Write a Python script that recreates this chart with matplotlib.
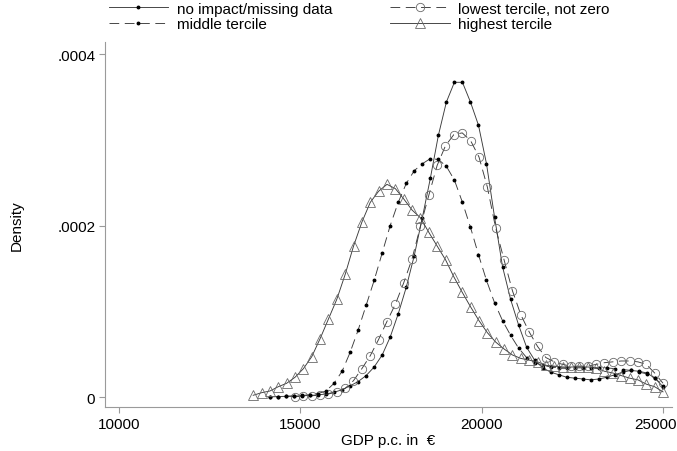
import numpy as np
import matplotlib
matplotlib.use("Agg")
import matplotlib.pyplot as plt
import matplotlib.transforms as mtransforms

plt.rcParams['font.family'] = ['Liberation Sans', 'DejaVu Sans']
plt.rcParams['lines.scale_dashes'] = False

# ---- data (density values in units of 1e-4) ----
noimp_start, noimp_end, noimp_n = 14160, 25000, 50
noimp_dens = [0.003, 0.005, 0.008, 0.01, 0.014, 0.018, 0.025, 0.035, 0.055, 0.085,
              0.13, 0.18, 0.25, 0.35, 0.49, 0.70, 0.97, 1.28, 1.65, 2.09,
              2.55, 3.05, 3.44, 3.67, 3.67, 3.44, 3.17, 2.72, 2.10, 1.52,
              1.14, 0.84, 0.58, 0.43, 0.34, 0.29, 0.26, 0.23, 0.22, 0.21,
              0.20, 0.21, 0.23, 0.26, 0.29, 0.31, 0.30, 0.28, 0.22, 0.12]

low_start, low_end, low_n = 14850, 25000, 45
low_dens = [0.005, 0.01, 0.015, 0.02, 0.035, 0.06, 0.10, 0.19, 0.33, 0.48,
            0.67, 0.88, 1.08, 1.33, 1.61, 1.99, 2.35, 2.70, 2.93, 3.06,
            3.08, 2.99, 2.80, 2.45, 1.97, 1.60, 1.24, 0.96, 0.76, 0.59,
            0.46, 0.41, 0.38, 0.36, 0.36, 0.36, 0.38, 0.40, 0.41, 0.42,
            0.42, 0.41, 0.38, 0.28, 0.16]

mid_start, mid_end, mid_n = 14160, 25000, 50
mid_dens = [0.003, 0.005, 0.008, 0.012, 0.018, 0.026, 0.04, 0.07, 0.16, 0.30,
            0.52, 0.78, 1.07, 1.36, 1.68, 2.00, 2.27, 2.49, 2.64, 2.72,
            2.78, 2.77, 2.69, 2.53, 2.27, 1.98, 1.66, 1.36, 1.10, 0.89,
            0.72, 0.57, 0.46, 0.40, 0.37, 0.35, 0.34, 0.34, 0.34, 0.34,
            0.34, 0.34, 0.34, 0.33, 0.32, 0.31, 0.29, 0.27, 0.22, 0.13]

high_start, high_end, high_n = 13700, 25000, 50
high_dens = [0.02, 0.05, 0.07, 0.12, 0.16, 0.23, 0.33, 0.47, 0.68, 0.91,
             1.14, 1.43, 1.76, 2.04, 2.27, 2.40, 2.48, 2.43, 2.31, 2.18,
             2.09, 1.92, 1.76, 1.60, 1.40, 1.22, 1.05, 0.89, 0.75, 0.64,
             0.56, 0.49, 0.45, 0.43, 0.41, 0.37, 0.36, 0.35, 0.35, 0.35,
             0.35, 0.34, 0.30, 0.28, 0.25, 0.22, 0.20, 0.15, 0.12, 0.06]

labels = ["no impact/missing data", "lowest tercile, not zero",
          "middle tercile", "highest tercile"]
xticks = [10000, 15000, 20000, 25000]
xticklabels = ["10000", "15000", "20000", "25000"]
yticks = [0, 0.0002, 0.0004]
yticklabels = ["0", ".0002", ".0004"]

scale = 1e-4
fs = 11

fig = plt.figure(figsize=(6.77, 4.52), dpi=100)
ax = fig.add_axes([105/677, (452-408)/452, (672-105)/677, (408-43)/452])

line_col = '#3a3a3a'
lw = 0.65

x1 = np.linspace(noimp_start, noimp_end, noimp_n)
l1, = ax.plot(x1, np.array(noimp_dens) * scale, color=line_col, lw=lw,
              marker='o', ms=1.8, mfc='black', mec='black', label=labels[0])

x2 = np.linspace(low_start, low_end, low_n)
l2, = ax.plot(x2, np.array(low_dens) * scale, color=line_col, lw=lw,
              dashes=(7, 4), marker='o', ms=6, mfc='none', mec='#6a6a6a',
              mew=0.6, label=labels[1])

x3 = np.linspace(mid_start, mid_end, mid_n)
l3, = ax.plot(x3, np.array(mid_dens) * scale, color=line_col, lw=lw,
              dashes=(7, 4), marker='o', ms=1.8, mfc='black', mec='black',
              label=labels[2])

x4 = np.linspace(high_start, high_end, high_n)
l4, = ax.plot(x4, np.array(high_dens) * scale, color=line_col, lw=lw,
              marker='^', ms=6.5, mfc='none', mec='#6a6a6a', mew=0.6,
              label=labels[3])

ax.set_xlim(9614, 25248)
ax.set_ylim(-(408 - 398) / 857500, 0.000414)

ax.set_xticks(xticks)
ax.set_xticklabels(xticklabels)
ax.set_yticks(yticks)
ax.set_yticklabels(yticklabels)

for s in ['top', 'right']:
    ax.spines[s].set_visible(False)
for s in ['left', 'bottom']:
    ax.spines[s].set_color('#9a9a9a')
    ax.spines[s].set_linewidth(0.8)
ax.tick_params(axis='both', colors='#9a9a9a', length=4.5, width=0.8,
               labelsize=fs, labelcolor='black', pad=2.5)

# keep the last x tick label inside the figure
last = ax.get_xticklabels()[-1]
last.set_transform(last.get_transform() +
                   mtransforms.ScaledTranslation(-8/100, 0, fig.dpi_scale_trans))

ax.set_xlabel("GDP p.c. in  \u20ac", fontsize=fs, labelpad=2)
ax.set_ylabel("Density", fontsize=fs, labelpad=24)

fig.legend(handles=[l1, l3, l2, l4],
           labels=[labels[0], labels[2], labels[1], labels[3]],
           ncol=2, loc='upper left', bbox_to_anchor=(98/677, 1.018),
           frameon=False, fontsize=fs, handlelength=3.9, handletextpad=0.55,
           columnspacing=3.8, labelspacing=0.1, borderpad=0.2)

fig.savefig("out.png", dpi=100)
